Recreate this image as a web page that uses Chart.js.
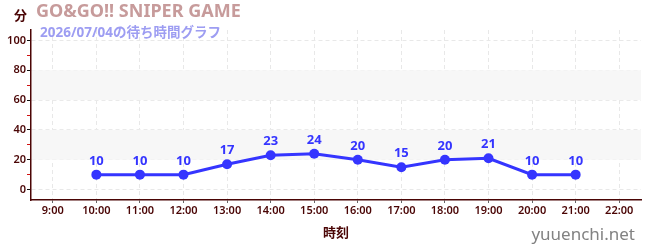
<!DOCTYPE html>
<html>
<head>
<meta charset="utf-8">
<script src="https://cdn.jsdelivr.net/npm/chart.js@4.4.0/dist/chart.umd.min.js"></script>
<style>
  body { margin: 0; background: #fff; }
  #wrap { position: relative; width: 650px; height: 250px; font-family: "Noto Sans", "Noto Sans CJK JP", sans-serif; }
  canvas { position: absolute; left: 0; top: 0; }
  .txt { position: absolute; white-space: nowrap; }
</style>
</head>
<body>
<div id="wrap">
  <canvas id="chart" width="650" height="250"></canvas>
  <div class="txt" style="left:14px;top:5px;font-size:13px;font-weight:bold;color:#4a0505;">分</div>
  <div class="txt" style="left:36px;top:-2px;font-size:18px;font-weight:bold;color:#c79b9b;">GO&amp;GO!! SNIPER GAME</div>
  <div class="txt" style="left:40px;top:21px;font-size:13.5px;font-weight:bold;color:#9d9df2;">2026/07/04の待ち時間グラフ</div>
  <div class="txt" style="right:15px;top:222px;font-size:17px;color:#828282;">yuuenchi.net</div>
</div>
<script>
// hours on the x axis
const labels = ['9:00', '10:00', '11:00', '12:00', '13:00', '14:00', '15:00',
                '16:00', '17:00', '18:00', '19:00', '20:00', '21:00', '22:00'];
// waiting time (minutes), null = no data
const waits = [null, 10, 10, 10, 17, 23, 24, 20, 15, 20, 21, 10, 10, null];
const yTicks = [0, 10, 20, 30, 40, 50, 60, 70, 80, 90, 100];
const bands = [[20, 40], [60, 80]];

const blue = '#3535ff';
const maroon = '#4a0505';

// gray bands behind the plot
const bandPlugin = {
  id: 'bands',
  beforeDatasetsDraw(chart) {
    const { ctx, chartArea: a, scales: { y } } = chart;
    ctx.save();
    ctx.fillStyle = '#f7f7f7';
    bands.forEach(b => {
      const top = y.getPixelForValue(b[1]);
      const bot = y.getPixelForValue(b[0]);
      ctx.fillRect(a.left + 1, top, a.right - a.left - 1, bot - top);
    });
    ctx.restore();
  }
};

// value labels over the points
const valueLabels = {
  id: 'valueLabels',
  afterDatasetsDraw(chart) {
    const ctx = chart.ctx;
    const meta = chart.getDatasetMeta(0);
    ctx.save();
    ctx.font = 'bold 13px "Noto Sans"';
    ctx.fillStyle = blue;
    ctx.textAlign = 'center';
    ctx.textBaseline = 'bottom';
    meta.data.forEach((pt, i) => {
      if (waits[i] == null) return;
      ctx.fillText(String(waits[i]), pt.x, pt.y - 7);
    });
    ctx.restore();
  }
};

new Chart(document.getElementById('chart'), {
  type: 'line',
  data: {
    labels: labels,
    datasets: [{
      data: waits,
      borderColor: blue,
      backgroundColor: blue,
      borderWidth: 3,
      pointRadius: 5,
      pointBorderWidth: 0,
      tension: 0
    }]
  },
  options: {
    responsive: false,
    animation: false,
    layout: { padding: { top: 30, right: 9, left: 0, bottom: 0 } },
    plugins: { legend: { display: false }, tooltip: { enabled: false } },
    scales: {
      x: {
        type: 'category',
        offset: true,
        grid: {
          offset: false,
          color: '#e8e8e8',
          tickColor: '#666',
          tickLength: 3
        },
        border: { color: maroon, width: 1.5, dash: [4, 3] },
        ticks: {
          color: maroon,
          padding: 1,
          maxRotation: 0,
          autoSkip: false,
          font: { size: 11, weight: '600', family: '"Noto Sans"' }
        },
        title: {
          display: true,
          text: '時刻',
          color: maroon,
          font: { size: 13, weight: 'bold', family: '"Noto Sans CJK JP"' },
          padding: { top: 0, bottom: 10 }
        },
        afterFit(s) { s.height = 50; }
      },
      y: {
        min: -7,
        max: 107,
        afterBuildTicks(s) { s.ticks = yTicks.map(v => ({ value: v })); },
        grid: {
          color: c => (c.tick && c.tick.value % 20 === 0) ? '#e8e8e8' : 'rgba(0,0,0,0)',
          tickColor: c => (c.tick && c.tick.value % 20 === 0) ? '#111' : '#d01010',
          tickLength: 4
        },
        border: { color: maroon, width: 1.5, dash: [4, 3] },
        ticks: {
          color: maroon,
          padding: 1,
          font: { size: 11, weight: '600', family: '"Noto Sans"' },
          callback: v => (v % 20 === 0 ? v : '')
        },
        afterFit(s) { s.width = 31; }
      }
    }
  },
  plugins: [bandPlugin, valueLabels]
});
</script>
</body>
</html>
